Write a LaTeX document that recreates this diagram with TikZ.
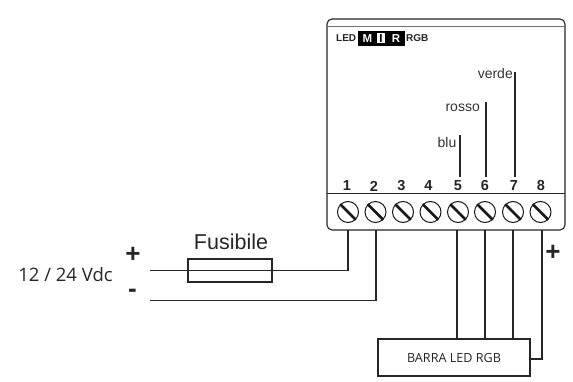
\documentclass[tikz,border=0pt]{standalone}
\usepackage{fontspec}
\setmainfont{Liberation Sans}
\newfontfamily\tah{Open Sans}
\begin{document}
\begin{tikzpicture}[x=1pt,y=-1pt,
  wire/.style={draw=black!85,line width=1.1pt},
  thick wire/.style={draw=black!85,line width=1.6pt},
  screwhead/.style={circle,draw=black!90,line width=1pt,minimum size=21pt,inner sep=0pt},
  slot/.style={line width=2.6pt,black!90},
  num/.style={font=\fontsize{14.5}{14.5}\selectfont\bfseries,text=black!85,inner sep=0pt},
  lbl/.style={font=\fontsize{14}{14}\selectfont,text=black!80,inner sep=0pt},
  tag/.style={font=\fontsize{10}{10}\selectfont\bfseries,inner sep=0pt},
  bigtag/.style={font=\fontsize{11.5}{11.5}\selectfont\bfseries,inner sep=0pt},
  sign/.style={font=\fontsize{26}{26}\selectfont\bfseries,text=black!85,inner sep=0pt}]
\useasboundingbox (0,0) rectangle (573,382);
\fill[white] (0,0) rectangle (573,382);
% housing
\draw[line width=1.1pt,black!85,rounded corners=5pt] (327,19) rectangle (565,230);
\draw[line width=.7pt,black!55] (327,26) -- (565,26);
\draw[line width=.8pt,black!85] (327,193) -- (565,193);
% badge
\node[tag,anchor=west,text=black!85] (led) at (336,38) {LED};
\fill[black] (358,31) rectangle (405,46);
\fill[white] (377,33.5) rectangle (385,43.5);
\node[bigtag,text=white] (m) at (367.5,38.5) {M};
\node[bigtag,text=black] (i) at (381,38.5) {I};
\node[bigtag,text=white] (r) at (396,38.5) {R};
\node[tag,anchor=west,text=black!85] (rgb) at (406,38) {RGB};
% screws and numbers
\foreach \n/\x/\nx in {1/348/347,2/375.5/374,3/403/401.5,4/430.5/428.5,5/458/458,6/485/485,7/513/514,8/540.5/541}{
  \node[screwhead] (s\n) at (\x,212) {};
  \draw[slot] (s\n.135) -- (s\n.315);
  \node[num] (n\n) at (\nx,186) {\n};
}
% inner colour leads
\coordinate (blutop) at (460,135);
\coordinate (rossotop) at (486,102);
\coordinate (verdetop) at (515,72);
\coordinate (bluend) at (460,177);
\coordinate (rossoend) at (486,177);
\coordinate (verdeend) at (515,177);
\draw[thick wire] (blutop) -- (bluend);
\draw[thick wire] (rossotop) -- (rossoend);
\draw[thick wire] (verdetop) -- (verdeend);
\node[lbl,anchor=east] (blu) at (456.5,142) {blu};
\node[lbl,anchor=east] (rosso) at (480,108) {rosso};
\node[lbl,anchor=east] (verde) at (513,73.5) {verde};
% supply side
\node[draw=black!85,line width=1.1pt,minimum width=84pt,minimum height=23pt,inner sep=0pt] (fuse) at (230,270.5) {};
\node[inner sep=0pt,font=\fontsize{21.5}{21.5}\selectfont,text=black!85] (fusetxt) at (231,242) {Fusibile};
\node[font=\tah\fontsize{18.5}{18.5}\selectfont,text=black!85,inner sep=0pt] (vdc) at (65.5,275) {12 / 24 Vdc};
\node[sign] (plus) at (133,254.5) {+};
\node[sign] (minus) at (132.5,293.5) {-};
\coordinate (p1) at (150,270.5);
\coordinate (p2) at (150,300.5);
\coordinate (t1) at (348,230);
\coordinate (t2) at (376,230);
\draw[wire] (p1) -- (348,270.5) -- (t1);
\draw[wire] (p2) -- (376,300.5) -- (t2);
% LED bar
\node[draw=black!85,line width=1.5pt,minimum width=152pt,minimum height=37pt,inner sep=0pt,font=\tah\fontsize{12.6}{12.6}\selectfont,text=black!85] (bar) at (454,357.5) {BARRA LED RGB};
\coordinate (t5) at (457,230);
\coordinate (t6) at (485,230);
\coordinate (t7) at (513,230);
\coordinate (t8) at (542,230);
\draw[thick wire] (t5) -- (t5 |- bar.north);
\draw[thick wire] (t6) -- (t6 |- bar.north);
\draw[thick wire] (t7) -- (t7 |- bar.north);
\draw[wire] (t8) -- (542,359) -- (bar.east |- 0,359);
\node[sign] (plus2) at (553,252.5) {+};
\end{tikzpicture}
\end{document}
